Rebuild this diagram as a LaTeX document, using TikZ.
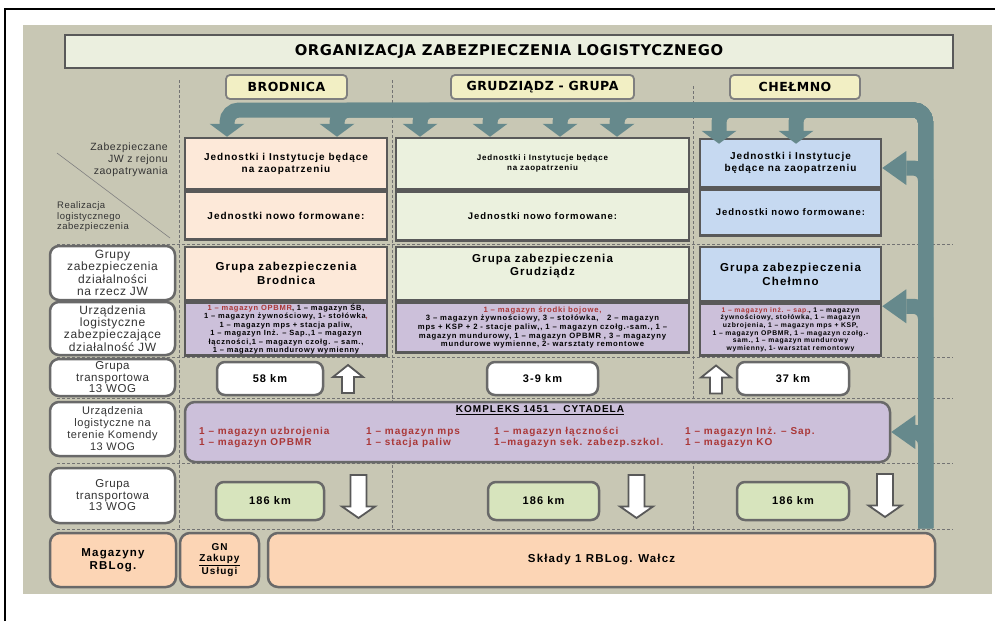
\documentclass[tikz,border=0pt]{standalone}
\usepackage{fontspec}
\setmainfont{Liberation Sans}
\newfontfamily\trk[LetterSpace=10]{Liberation Sans}
\newfontfamily\lsp[LetterSpace=5]{Liberation Sans}
\newfontfamily\verd[LetterSpace=4]{DejaVu Sans}
\usetikzlibrary{arrows.meta, positioning, calc}
\definecolor{panelgray}{RGB}{200,199,180}
\definecolor{titlefill}{RGB}{235,239,223}
\definecolor{hdrfill}{RGB}{242,239,196}
\definecolor{hdrdraw}{RGB}{127,127,127}
\definecolor{boxdraw}{RGB}{89,89,89}
\definecolor{lblgray}{RGB}{105,105,105}
\definecolor{peach}{RGB}{253,233,217}
\definecolor{palegreen}{RGB}{235,241,222}
\definecolor{paleblue}{RGB}{198,217,241}
\definecolor{lavender}{RGB}{204,192,218}
\definecolor{kmgreen}{RGB}{215,228,189}
\definecolor{apricot}{RGB}{252,213,181}
\definecolor{tealbar}{RGB}{102,137,140}
\definecolor{redtxt}{RGB}{170,55,55}

\begin{document}
\begin{tikzpicture}[
    x=1pt, y=-1pt,
    cell/.style={draw=boxdraw, line width=2.5pt, align=center, inner sep=1pt,
                 font=\trk\bfseries\fontsize{10}{12}\selectfont},
    lbl/.style={draw=lblgray, fill=white, rounded corners=9pt, line width=2.5pt,
                minimum width=125pt, align=center, inner sep=1pt, text=black!80,
                font=\lsp\fontsize{12}{12.5}\selectfont},
    hdr/.style={draw=hdrdraw, fill=hdrfill, rounded corners=4pt, line width=1.8pt,
                minimum height=24pt, font=\verd\bfseries\fontsize{12.5}{14}\selectfont},
    kmbox/.style={draw=lblgray, rounded corners=8pt, line width=2.5pt, minimum height=33pt,
                  font=\trk\bfseries\fontsize{11}{13}\selectfont},
    store/.style={draw=lblgray, fill=apricot, rounded corners=10pt, line width=2.5pt,
                  minimum height=54pt, align=center, inner sep=1pt,
                  font=\trk\bfseries\fontsize{11.5}{13}\selectfont},
    komitem/.style={anchor=west, align=left, inner sep=0pt, text=redtxt,
                    font=\trk\bfseries\fontsize{10}{11.5}\selectfont},
    hollow/.style={draw=boxdraw, fill=white, line width=1.8pt},
    blockup/.pic={\draw[hollow] (0,-14) -- (15,-2) -- (6,-2) -- (6,14) -- (-6,14)
                  -- (-6,-2) -- (-15,-2) -- cycle;},
    blockdown/.pic={\draw[hollow] (0,21.5) -- (16.5,10) -- (8,10) -- (8,-21.5) -- (-8,-21.5)
                    -- (-8,10) -- (-16.5,10) -- cycle;},
    band/.style={draw=tealbar, line width=15pt, rounded corners=12pt},
    downtip/.style={-{Triangle[width=35pt, length=13pt, line width=0pt]}},
    lefttip/.style={-{Triangle[width=34pt, length=24pt, line width=0pt]}},
    dashline/.style={draw=black!55, densely dashed, line width=0.7pt},
]
    \useasboundingbox (0,0) rectangle (995,621);
    \draw[line width=2pt] (5,621) -- (5,9) -- (995,9);
    \fill[panelgray] (23,25) rectangle (992,594);

    % grid
    \foreach \gx/\gy in {179/80, 392/80, 693/86}
        \draw[dashline] (\gx,\gy) -- (\gx,529);
    \foreach \gy in {244, 357, 398, 463, 529}
        \draw[dashline] (57,\gy) -- (953,\gy);
    \draw[black!50, line width=0.6pt] (57,153) -- (170,238);

    % title and column heads
    \node[draw=boxdraw, line width=1.5pt, fill=titlefill, minimum width=888pt, minimum height=33pt,
          font=\verd\bfseries\fontsize{14.8}{16}\selectfont] (title) at (509,51.5)
          {ORGANIZACJA ZABEZPIECZENIA LOGISTYCZNEGO};
    \node[hdr, minimum width=121pt] (hbrod) at (286.5,87) {BRODNICA};
    \node[hdr, minimum width=183pt] (hgrud) at (542.5,87) {GRUDZIĄDZ - GRUPA};
    \node[hdr, minimum width=130pt] (hchel) at (795,87) {CHEŁMNO};

    % row heads
    \node[anchor=east, align=right, inner sep=0pt, text=black!80,
          font=\lsp\fontsize{10.5}{12}\selectfont] (zabjw) at (168,160)
          {Zabezpieczane\\JW z rejonu\\zaopatrywania};
    \node[anchor=west, align=left, inner sep=0pt, text=black!80,
          font=\lsp\fontsize{9.5}{10.5}\selectfont] (realiz) at (57,217)
          {Realizacja\\logistycznego\\zabezpieczenia};
    \node[lbl, minimum height=54pt] (lgrupy) at (112.5,273)
          {Grupy\\zabezpieczenia\\działalności\\na rzecz JW};
    \node[lbl, minimum height=53pt, font=\lsp\fontsize{12}{12.3}\selectfont] (lurz) at (112.5,328.5)
          {Urządzenia\\logistyczne\\zabezpieczające\\działalność JW};
    \node[lbl, minimum height=37pt, font=\lsp\fontsize{11.5}{11.5}\selectfont] (ltrans1) at (112.5,377.5)
          {Grupa\\transportowa\\13 WOG};
    \node[lbl, minimum height=54pt, font=\lsp\fontsize{11}{12}\selectfont] (lkom) at (112.5,429)
          {Urządzenia\\logistyczne na\\terenie Komendy\\13 WOG};
    \node[lbl, minimum height=55pt, font=\lsp\fontsize{11.5}{11.5}\selectfont] (ltrans2) at (112.5,495.5)
          {Grupa\\transportowa\\13 WOG};

    % Brodnica
    \node[cell, fill=peach, minimum width=202pt, minimum height=51pt] (jb1) at (286,163.5)
          {Jednostki i Instytucje będące\\na zaopatrzeniu};
    \node[cell, fill=peach, minimum width=202pt, minimum height=48pt, below=0pt of jb1] (jn1)
          {Jednostki nowo formowane:};
    \node[cell, fill=peach, minimum width=202pt, minimum height=53pt,
          font=\trk\bfseries\fontsize{11.5}{14}\selectfont] (g1) at (286,273.5)
          {Grupa zabezpieczenia\\Brodnica};
    \node[cell, fill=lavender, minimum width=202pt, minimum height=53pt, below=0pt of g1,
          font=\trk\bfseries\fontsize{7.5}{8.4}\selectfont] (m1)
          {\textcolor{redtxt}{1 – magazyn OPBMR}, 1 – magazyn ŚB,\\
           1 – magazyn żywnościowy, 1- stołówka\textcolor{redtxt}{,}\\
           1 – magazyn mps + stacja paliw,\\
           1 – magazyn Inż. – Sap.,1 – magazyn\\
           łączności,1 – magazyn czołg. – sam.,\\
           1 – magazyn mundurowy wymienny};

    % Grudziadz
    \node[cell, fill=palegreen, minimum width=293pt, minimum height=51pt,
          font=\trk\bfseries\fontsize{8}{10}\selectfont] (jb2) at (542.5,163.5)
          {Jednostki i Instytucje będące\\na zaopatrzeniu};
    \node[cell, fill=palegreen, minimum width=293pt, minimum height=49pt, below=0pt of jb2,
          font=\trk\bfseries\fontsize{9.5}{12}\selectfont] (jn2)
          {Jednostki nowo formowane:};
    \node[cell, fill=palegreen, minimum width=293pt, minimum height=53pt,
          font=\trk\bfseries\fontsize{11.5}{13}\selectfont] (g2) at (542.5,273.5)
          {Grupa zabezpieczenia\\Grudziądz\\[4pt]};
    \node[cell, fill=lavender, minimum width=293pt, minimum height=50pt, below=0pt of g2,
          font=\trk\bfseries\fontsize{7.7}{8.7}\selectfont] (m2)
          {\textcolor{redtxt}{1 – magazyn środki bojowe,}\\
           3 – magazyn żywnościowy, 3 – stołówka,\ \ \ 2 – magazyn\\
           mps + KSP + 2 - stacje paliw,, 1 – magazyn czołg.-sam., 1 –\\
           magazyn mundurowy, 1 – magazyn OPBMR , 3 – magazyny\\
           mundurowe wymienne, 2- warsztaty remontowe};

    % Chelmno
    \node[cell, fill=paleblue, minimum width=181pt, minimum height=48pt] (jb3) at (790.5,163)
          {Jednostki i Instytucje\\będące na zaopatrzeniu};
    \node[cell, fill=paleblue, minimum width=181pt, minimum height=46pt, below=0pt of jb3,
          font=\trk\bfseries\fontsize{9.5}{12}\selectfont] (jn3)
          {Jednostki nowo formowane:};
    \node[cell, fill=paleblue, minimum width=181pt, minimum height=54pt,
          font=\trk\bfseries\fontsize{11.5}{14}\selectfont] (g3) at (790.5,274)
          {Grupa zabezpieczenia\\Chełmno};
    \node[cell, fill=lavender, minimum width=181pt, minimum height=52pt, below=0pt of g3,
          font=\trk\bfseries\fontsize{6.8}{7.7}\selectfont] (m3)
          {\textcolor{redtxt}{1 – magazyn inż. – sap.}, 1 – magazyn\\
           żywnościowy, stołówka, 1 – magazyn\\
           uzbrojenia, 1 – magazyn mps + KSP,\\
           1 – magazyn OPBMR, 1 – magazyn czołg.-\\
           sam., 1 – magazyn mundurowy\\
           wymienny, 1- warsztat remontowy};

    % transport rows
    \node[kmbox, fill=white, minimum width=106pt] (km58) at (270,378.5) {58 km};
    \node[kmbox, fill=white, minimum width=111pt] (km39) at (542.5,378.5) {3-9 km};
    \node[kmbox, fill=white, minimum width=112pt] (km37) at (793,378.5) {37 km};
    \pic (up1) at (348,379) {blockup};
    \pic (up2) at (716,379.5) {blockup};
    \node[kmbox, fill=kmgreen, minimum width=108pt, minimum height=38pt] (kmb1) at (270,501) {186 km};
    \node[kmbox, fill=kmgreen, minimum width=111pt, minimum height=38pt] (kmb2) at (543.5,501) {186 km};
    \node[kmbox, fill=kmgreen, minimum width=112pt, minimum height=38pt] (kmb3) at (793,501) {186 km};
    \pic (dn1) at (358.5,496.5) {blockdown};
    \pic (dn2) at (636.5,496.5) {blockdown};
    \pic (dn3) at (885,495.5) {blockdown};

    % Kompleks
    \node[draw=lblgray, fill=lavender, rounded corners=10pt, line width=2.5pt,
          minimum width=705pt, minimum height=60pt] (kompleks) at (537.5,432) {};
    \node[inner sep=0pt, font=\trk\bfseries\fontsize{10}{12}\selectfont] (komtitle) at (540,410)
          {\underline{KOMPLEKS 1451 -\ \ CYTADELA}};
    \node[komitem] (kom1) at (199,437.5) {1 – magazyn uzbrojenia\\1 – magazyn OPBMR};
    \node[komitem] (kom2) at (366,437.5) {1 – magazyn mps\\1 – stacja paliw};
    \node[komitem] (kom3) at (494,437.5) {1 – magazyn łączności\\1–magazyn sek. zabezp.szkol.};
    \node[komitem] (kom4) at (685,437.5) {1 – magazyn Inż. – Sap.\\1 – magazyn KO};

    % bottom row
    \node[store, minimum width=126pt] (magrb) at (113,560) {Magazyny\\RBLog.};
    \node[store, minimum width=79pt, font=\trk\bfseries\fontsize{10}{11}\selectfont] (gn) at (219.5,560)
          {GN\\\underline{Zakupy}\\Usługi};
    \node[store, minimum width=667pt] (sklady) at (601.5,560) {Składy 1 RBLog. Wałcz};

    % supply flow
    \coordinate (barfoot) at (925.5,528);
    \coordinate (bandrow) at (0,110);
    \foreach \tgt/\dx/\dy in {jb1/-59/0, jb1/51/0, jb2/-122.5/0, jb2/-52.5/0,
                              jb2/17.5/0, jb2/74.5/0, jb3/-71.5/-6, jb3/5.5/-6} {
        \coordinate (tip) at ([xshift=\dx pt, yshift=\dy pt]\tgt.north);
        \draw[band, downtip] (barfoot) |- (tip |- bandrow) -- (tip);
    }
    \draw[band, lefttip] (barfoot) |- ([yshift=-5pt]jb3.east);
    \draw[band, lefttip] (barfoot) |- ([yshift=-4pt]m3.north east);
    \draw[band, lefttip] (barfoot) |- (kompleks.east);
\end{tikzpicture}
\end{document}
